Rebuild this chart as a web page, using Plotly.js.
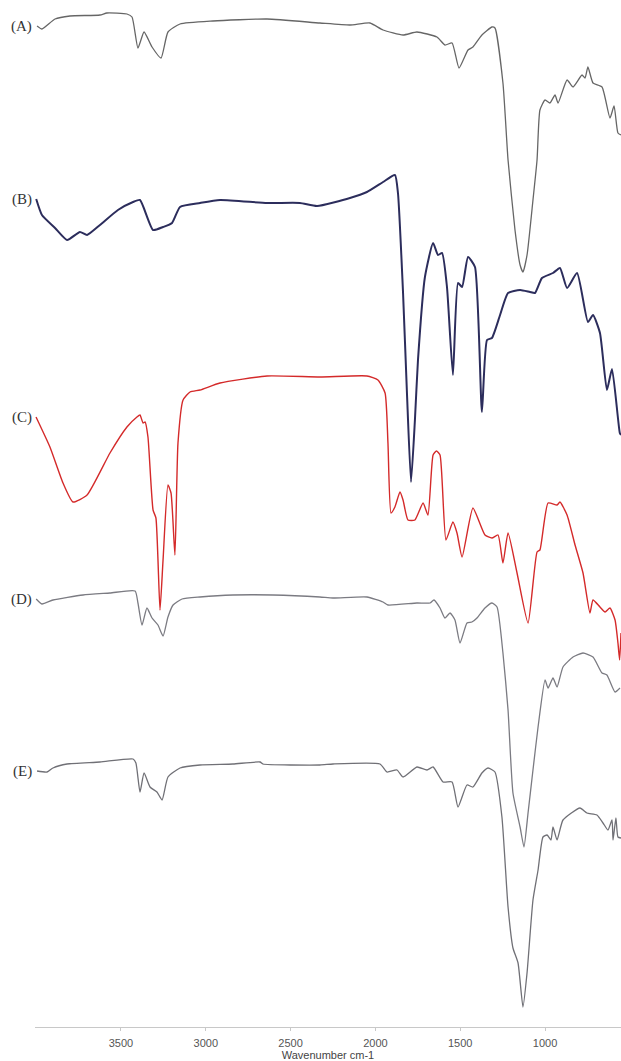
<!DOCTYPE html>
<html>
<head>
<meta charset="utf-8">
<script src="https://cdn.plot.ly/plotly-3.0.1.min.js"></script>
<style>html,body{margin:0;padding:0;background:#fff;}#chart{width:621px;height:1061px;}</style>
</head>
<body>
<div id="chart"></div>
<script>
// Wavenumbers (cm-1) and offset transmittance (a.u.)
const wnA = [3995,3966,3889,3801,3624,3583,3465,3435,3400,3364,3317,3264,3223,3152,2958,2639,2327,2150,2032,1955,1837,1755,1637,1590,1548,1507,1454,1425,1372,1313,1295,1248,1218,1177,1147,1130,1106,1071,1047,1030,1000,971,941,923,870,835,782,764,747,717,664,617,593,570,552];
const tA  = [1001,998,1008,1011,1012,1014,1013,1010,979,995,980,969,995,1003,1006,1008,1004,1002,1004,997,992,995,990,982,984,959,977,980,992,1000,999,944,867,797,762,755,772,827,867,917,927,924,932,924,947,940,952,949,960,944,940,909,921,894,892];

const wnB = [4000,3966,3889,3818,3742,3700,3624,3518,3429,3388,3311,3252,3199,3152,3034,2916,2639,2445,2344,2150,2050,1955,1885,1867,1837,1814,1790,1767,1749,1708,1660,1631,1607,1578,1543,1513,1489,1454,1413,1372,1342,1313,1265,1218,1147,1089,1059,1018,953,912,870,811,747,717,676,635,605,559,552];
const tB  = [828,812,799,787,795,792,802,817,825,827,797,800,804,820,824,827,824,824,821,829,835,845,852,834,734,634,545,607,667,750,784,772,774,740,652,744,740,770,760,615,687,689,712,734,737,735,734,749,754,759,739,754,705,712,694,637,658,594,592];

const wnC = [4001,3919,3842,3783,3700,3565,3465,3406,3388,3370,3358,3341,3311,3294,3270,3252,3223,3205,3182,3164,3134,3093,3034,2916,2639,2327,2050,1985,1943,1926,1908,1885,1855,1837,1808,1767,1719,1690,1660,1640,1619,1584,1543,1519,1489,1425,1354,1313,1277,1248,1218,1165,1100,1047,1030,982,929,912,870,823,776,735,717,676,646,617,587,570,560,552];
const tC  = [610,580,544,525,532,574,600,610,612,604,605,590,517,509,417,467,542,534,472,584,627,635,637,644,651,650,651,647,634,584,514,520,535,527,507,507,524,512,572,576,572,487,505,494,470,519,492,489,492,464,494,454,404,475,477,524,522,525,512,482,454,414,427,420,415,419,407,384,367,394];

const wnD = [4000,3966,3901,3724,3565,3417,3400,3376,3347,3317,3282,3252,3223,3193,3140,3034,2840,2604,2327,2250,2050,1955,1926,1755,1678,1655,1619,1590,1560,1531,1501,1460,1431,1401,1354,1313,1283,1248,1218,1189,1147,1124,1100,1071,1041,1000,982,953,929,894,835,776,717,664,635,587,558];
const tD  = [428,423,427,432,434,436,424,402,419,409,402,391,410,422,428,430,432,432,430,429,430,425,422,424,424,427,419,409,414,407,384,404,405,409,419,424,420,374,317,234,200,180,214,257,300,347,339,349,340,360,370,374,370,354,352,335,339];

const wnE = [3995,3936,3901,3818,3624,3429,3412,3388,3364,3329,3288,3258,3223,3152,3034,2840,2680,2663,2327,2250,1973,1932,1873,1837,1755,1696,1660,1601,1548,1513,1460,1425,1372,1336,1295,1254,1218,1189,1159,1130,1106,1071,1041,1012,988,965,953,929,894,794,753,694,658,629,605,599,582,570,552];
const tE  = [256,255,259,263,265,268,264,235,254,240,235,227,250,259,262,263,265,263,262,263,263,255,257,250,260,257,260,245,245,220,242,240,254,259,255,210,120,79,64,20,54,127,157,190,192,187,200,187,207,219,214,212,204,197,207,187,209,190,189];

const labels = ['(A)','(B)','(C)','(D)','(E)'];
const tickVals = [3500,3000,2500,2000,1500,1000];

const series = [
  {x: wnA, y: tA, color: '#666666', w: 1.3},
  {x: wnB, y: tB, color: '#2c2d5c', w: 2.0},
  {x: wnC, y: tC, color: '#d42a2a', w: 1.4},
  {x: wnD, y: tD, color: '#7b7b82', w: 1.3},
  {x: wnE, y: tE, color: '#707076', w: 1.3}
];

const traces = series.map((s, i) => ({
  x: s.x, y: s.y, type: 'scatter', mode: 'lines', name: labels[i],
  line: {color: s.color, width: s.w, shape: 'spline', smoothing: 0.5},
  hoverinfo: 'x+name'
}));

const annotations = series.map((s, i) => ({
  xref: 'paper', yref: 'y', x: -0.002, y: s.y[0], xanchor: 'right', yanchor: 'middle',
  text: labels[i], showarrow: false,
  font: {family: 'Liberation Serif, Times New Roman, serif', size: 15, color: '#333'}
}));

const layout = {
  width: 621, height: 1061,
  margin: {l: 35, r: 0, t: 0, b: 34},
  paper_bgcolor: '#ffffff', plot_bgcolor: '#ffffff',
  showlegend: false,
  xaxis: {
    range: [4007, 552], tickvals: tickVals, ticktext: tickVals.map(String),
    showgrid: false, zeroline: false, showline: true, linecolor: '#c8c8c8', linewidth: 1,
    ticks: 'outside', ticklen: 3, tickcolor: '#c8c8c8', tickwidth: 1,
    ticklabelstandoff: 3,
    tickfont: {family: 'Liberation Sans, Arial, sans-serif', size: 11, color: '#555'},
    title: {text: 'Wavenumber cm-1', standoff: 4, font: {family: 'Liberation Sans, Arial, sans-serif', size: 11, color: '#444'}},
    automargin: false
  },
  yaxis: {range: [0, 1027], visible: false, fixedrange: true},
  annotations: annotations
};

Plotly.newPlot('chart', traces, layout, {displayModeBar: false, staticPlot: true});
</script>
</body>
</html>
